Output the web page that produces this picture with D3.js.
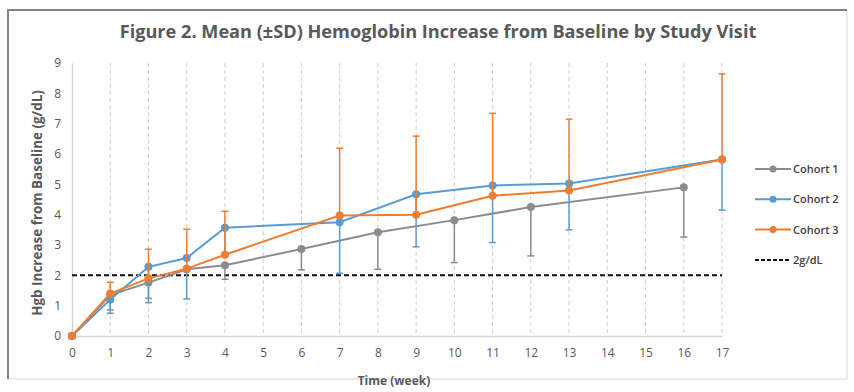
<!DOCTYPE html>
<html>
<head>
<meta charset="utf-8">
<script src="https://cdn.jsdelivr.net/npm/d3@7"></script>
<style>
  body { margin: 0; background: #fff; }
  svg { display: block; }
</style>
</head>
<body>
<div id="chart"></div>
<script>
var weeks = d3.range(0, 18);
var yTicks = d3.range(0, 10);

var cohortNames = ["Cohort 1", "Cohort 2", "Cohort 3"];
var cohortColors = ["#8c8c8c", "#5b9bd5", "#ed7d31"];
// excel only shows one side of the SD bar for each cohort
var errDirection = [-1, -1, 1];

var cohort1Weeks = [0, 1, 2, 3, 4, 6, 8, 10, 12, 16];
var cohort1Mean = [0, 1.35, 1.76, 2.2, 2.33, 2.87, 3.42, 3.82, 4.25, 4.9];
var cohort1Sd = [0, 0.49, 0.66, 0, 0.46, 0.69, 1.22, 1.4, 1.61, 1.64];

var cohort2Weeks = [0, 1, 2, 3, 4, 7, 9, 11, 13, 17];
var cohort2Mean = [0, 1.2, 2.28, 2.57, 3.57, 3.75, 4.67, 4.96, 5.03, 5.82];
var cohort2Sd = [0, 0.45, 1.04, 1.35, 0.87, 1.68, 1.73, 1.88, 1.53, 1.67];

var cohort3Weeks = [0, 1, 2, 3, 4, 7, 9, 11, 13, 17];
var cohort3Mean = [0, 1.4, 1.9, 2.22, 2.68, 3.97, 4.0, 4.62, 4.8, 5.82];
var cohort3Sd = [0, 0.37, 0.96, 1.3, 1.43, 2.22, 2.59, 2.72, 2.35, 2.82];

var thresholdLabel = "2g/dL";
var thresholdValue = 2;

var series = [
  { weeks: cohort1Weeks, mean: cohort1Mean, sd: cohort1Sd },
  { weeks: cohort2Weeks, mean: cohort2Mean, sd: cohort2Sd },
  { weeks: cohort3Weeks, mean: cohort3Mean, sd: cohort3Sd }
].map(function (s, i) {
  return {
    name: cohortNames[i],
    color: cohortColors[i],
    dir: errDirection[i],
    points: s.weeks.map(function (w, j) {
      return { x: w, y: s.mean[j], sd: s.sd[j] };
    })
  };
});

var width = 854, height = 392;
var plot = { left: 72, right: 722, top: 63, bottom: 336 };
var textColor = "#595959";
var font = "'Open Sans', 'Noto Sans', sans-serif";

var svg = d3.select("#chart")
  .append("svg")
  .attr("width", width)
  .attr("height", height);

// frame
svg.append("rect")
  .attr("x", 8).attr("y", 10)
  .attr("width", 839).attr("height", 369)
  .attr("fill", "#fff")
  .attr("stroke", "#e6e6e6")
  .attr("stroke-width", 1.5);
svg.append("path")
  .attr("d", "M8,379V10H847")
  .attr("fill", "none")
  .attr("stroke", "#7d868c")
  .attr("stroke-width", 2);

var x = d3.scaleLinear().domain([0, 17]).range([plot.left, plot.right]);
var y = d3.scaleLinear().domain([0, 9]).range([plot.bottom, plot.top]);

// vertical dashed gridlines
svg.append("g")
  .selectAll("line")
  .data(weeks.slice(1))
  .enter()
  .append("line")
  .attr("x1", function (d) { return x(d); })
  .attr("x2", function (d) { return x(d); })
  .attr("y1", y(9))
  .attr("y2", y(0))
  .attr("stroke", "#cfcfcf")
  .attr("stroke-width", 1)
  .attr("stroke-dasharray", "4,3");

// axes
var xAxis = svg.append("g")
  .attr("transform", "translate(0," + plot.bottom + ")")
  .call(d3.axisBottom(x).tickValues(weeks).tickFormat(d3.format("d")).tickSize(0).tickPadding(12));
var yAxis = svg.append("g")
  .attr("transform", "translate(" + plot.left + ",0)")
  .call(d3.axisLeft(y).tickValues(yTicks).tickFormat(d3.format("d")).tickSize(0).tickPadding(11));

[xAxis, yAxis].forEach(function (g) {
  g.select(".domain").attr("stroke", "#d4d4d4").attr("stroke-width", 1.5);
  g.selectAll("text")
    .attr("fill", textColor)
    .style("font-family", font)
    .style("font-size", "12px");
});

// threshold line
svg.append("line")
  .attr("x1", x(0)).attr("x2", x(17))
  .attr("y1", y(thresholdValue)).attr("y2", y(thresholdValue))
  .attr("stroke", "#111")
  .attr("stroke-width", 2)
  .attr("stroke-dasharray", "5,3");

var line = d3.line()
  .x(function (d) { return x(d.x); })
  .y(function (d) { return y(d.y); });

series.forEach(function (s) {
  var g = svg.append("g");
  var bars = s.points.filter(function (d) { return d.sd > 0; });

  g.selectAll("line.err")
    .data(bars)
    .enter()
    .append("line")
    .attr("class", "err")
    .attr("x1", function (d) { return x(d.x); })
    .attr("x2", function (d) { return x(d.x); })
    .attr("y1", function (d) { return y(d.y); })
    .attr("y2", function (d) { return y(d.y + s.dir * d.sd); })
    .attr("stroke", s.color)
    .attr("stroke-width", 1.5);

  g.selectAll("line.cap")
    .data(bars)
    .enter()
    .append("line")
    .attr("class", "cap")
    .attr("x1", function (d) { return x(d.x) - 3.5; })
    .attr("x2", function (d) { return x(d.x) + 3.5; })
    .attr("y1", function (d) { return y(d.y + s.dir * d.sd); })
    .attr("y2", function (d) { return y(d.y + s.dir * d.sd); })
    .attr("stroke", s.color)
    .attr("stroke-width", 1.5);

  g.append("path")
    .datum(s.points)
    .attr("d", line)
    .attr("fill", "none")
    .attr("stroke", s.color)
    .attr("stroke-width", 2);

  g.selectAll("circle")
    .data(s.points)
    .enter()
    .append("circle")
    .attr("cx", function (d) { return x(d.x); })
    .attr("cy", function (d) { return y(d.y); })
    .attr("r", 4)
    .attr("fill", s.color);
});

// title
var title = svg.append("text")
  .attr("x", 438)
  .attr("y", 38)
  .attr("text-anchor", "middle")
  .attr("fill", textColor)
  .style("font-family", font)
  .style("font-weight", "bold")
  .style("font-size", "17px")
  .text("Figure 2. Mean (\u00b1SD) Hemoglobin Increase from Baseline by Study Visit");
var tw = title.node().getComputedTextLength();
if (tw > 0) title.style("font-size", (17 * 637 / tw) + "px");

// axis titles
svg.append("text")
  .attr("x", x(8.5) - 3)
  .attr("y", 385)
  .attr("text-anchor", "middle")
  .attr("fill", textColor)
  .style("font-family", font)
  .style("font-weight", "bold")
  .style("font-size", "12px")
  .text("Time (week)");

var yTitle = svg.append("text")
  .attr("transform", "translate(42," + 203 + ") rotate(-90)")
  .attr("text-anchor", "middle")
  .attr("fill", textColor)
  .style("font-family", font)
  .style("font-weight", "bold")
  .style("font-size", "12px")
  .text("Hgb Increase from Baseline  (g/dL)");
var yw = yTitle.node().getComputedTextLength();
if (yw > 0) yTitle.style("font-size", (12 * 226 / yw) + "px");

// legend
var legendItems = series.map(function (s) {
  return { name: s.name, color: s.color, dash: null, marker: true };
});
legendItems.push({ name: thresholdLabel, color: "#111", dash: "4,2", marker: false });

var legend = svg.append("g")
  .selectAll("g")
  .data(legendItems)
  .enter()
  .append("g")
  .attr("transform", function (d, i) { return "translate(755," + (169 + i * 30.3) + ")"; });

legend.append("line")
  .attr("x1", 0).attr("x2", 36)
  .attr("stroke", function (d) { return d.color; })
  .attr("stroke-width", function (d) { return d.marker ? 2 : 2; })
  .attr("stroke-dasharray", function (d) { return d.dash; });
legend.filter(function (d) { return d.marker; })
  .append("circle")
  .attr("cx", 18)
  .attr("r", 3.5)
  .attr("fill", function (d) { return d.color; });
legend.append("text")
  .attr("x", 38)
  .attr("y", 4)
  .attr("fill", "#404040")
  .style("font-family", font)
  .style("font-weight", "600")
  .style("font-size", "11px")
  .text(function (d) { return d.name; });
</script>
</body>
</html>
